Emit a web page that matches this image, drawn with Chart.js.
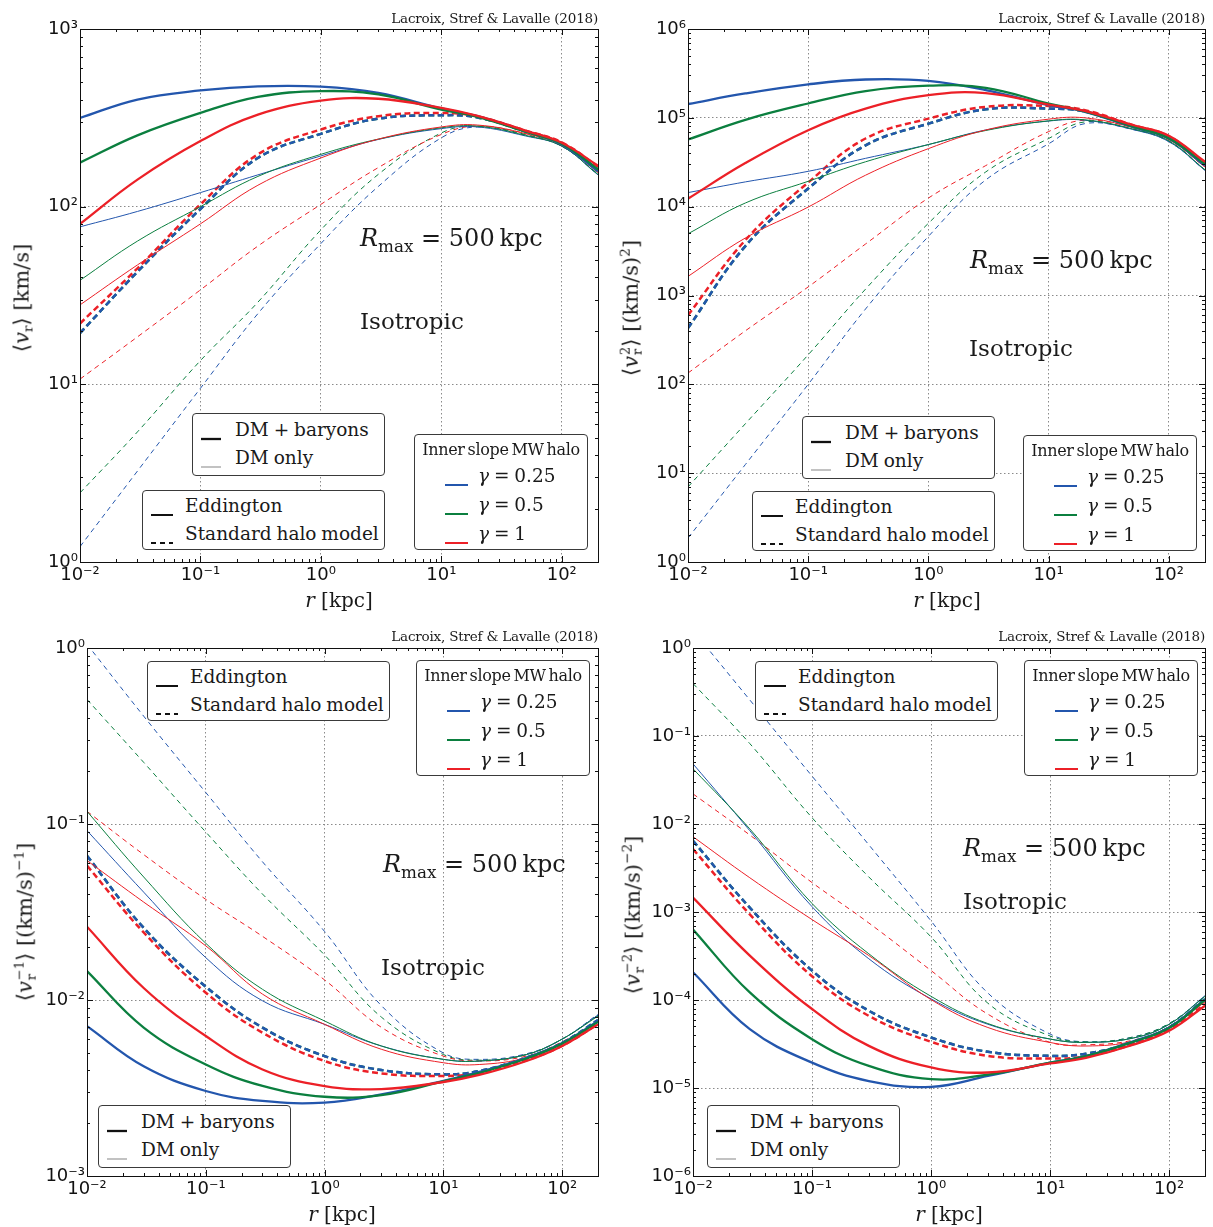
<!DOCTYPE html>
<html>
<head>
<meta charset="utf-8">
<script src="https://cdn.jsdelivr.net/npm/chart.js@4.4.0/dist/chart.umd.min.js"></script>
<style>
body{margin:0;background:#fff;width:1213px;height:1227px;position:relative;overflow:hidden;font-family:"DejaVu Serif",serif;color:#1a1a1a}
canvas{position:absolute}
.t{position:absolute;white-space:nowrap;line-height:1}
.box{position:absolute;border:1px solid #3a3a3a;border-radius:4px;background:#fff}
.row{position:absolute;white-space:nowrap;font-size:18.5px;line-height:1;transform:translateY(-50%);word-spacing:-1px}
.smp{position:absolute;transform:translateY(-50%)}
sub,sup{font-size:65%;line-height:0}
.st{display:inline-block;vertical-align:middle;font-size:62%;line-height:0.95;margin-left:1px}
.st span{display:block}
</style>
</head>
<body>
<canvas id="c1"></canvas>
<canvas id="c2"></canvas>
<canvas id="c3"></canvas>
<canvas id="c4"></canvas>
<script>
// radius grid (kpc) shared by every curve
const r = [0.01, 0.03, 0.1, 0.3, 1, 3, 10, 20, 50, 100, 200];

// <v_r>  [km/s]
const v1_eddBar_b = [316, 401, 451, 476, 474, 437, 357, 323, 266, 224, 158];
const v1_eddBar_g = [177, 252, 337, 415, 447, 428, 352, 320, 264, 226, 162];
const v1_eddBar_r = [80, 142, 234, 330, 395, 405, 360, 324, 268, 229, 170];
const v1_eddDm_b = [77, 94, 120, 151, 193, 239, 275, 281, 250, 219, 151];
const v1_eddDm_g = [38.5, 64, 100, 148, 197, 240, 278, 284, 252, 219, 152];
const v1_eddDm_r = [28, 47, 80, 132, 188, 240, 281, 288, 258, 222, 156];
const v1_shmBar_b = [19.4, 43, 97, 188, 257, 313, 327, 318, 265, 226, 162];
const v1_shmBar_g = [19.4, 43, 97, 188, 257, 313, 327, 318, 265, 226, 162];
const v1_shmBar_r = [22, 45, 103, 197, 272, 323, 337, 322, 268, 230, 168];
const v1_shmDm_b = [1.22, 3.25, 9.5, 25, 62, 130, 244, 281, 253, 219, 152];
const v1_shmDm_g = [2.45, 5.4, 13.6, 29, 74, 152, 260, 284, 255, 220, 153];
const v1_shmDm_r = [10.7, 18.5, 34, 60, 103, 166, 255, 284, 258, 222, 156];

// <v_r^2>  [(km/s)^2]
const v2_eddBar_b = [1.43e5, 1.88e5, 2.38e5, 2.7e5, 2.61e5, 2.05e5, 1.39e5, 1.17e5, 7.9e4, 5.85e4, 2.9e4];
const v2_eddBar_g = [5.7e4, 9.5e4, 1.45e5, 2.0e5, 2.3e5, 2.18e5, 1.45e5, 1.18e5, 8.0e4, 5.9e4, 3.0e4];
const v2_eddBar_r = [1.23e4, 3.1e4, 7.26e4, 1.27e5, 1.8e5, 1.9e5, 1.41e5, 1.2e5, 8.3e4, 6.3e4, 3.2e4];
const v2_eddDm_b = [1.44e4, 1.9e4, 2.5e4, 3.5e4, 5.0e4, 7.3e4, 9.2e4, 9.4e4, 7.4e4, 5.4e4, 2.57e4];
const v2_eddDm_g = [4950, 1.1e4, 1.93e4, 3.2e4, 5.0e4, 7.2e4, 9.25e4, 9.5e4, 7.5e4, 5.5e4, 2.6e4];
const v2_eddDm_r = [1640, 4440, 9900, 2.26e4, 4.5e4, 7.3e4, 9.66e4, 1.0e5, 7.8e4, 5.7e4, 2.8e4];
const v2_shmBar_b = [430, 3600, 1.6e4, 4.9e4, 8.6e4, 1.25e5, 1.27e5, 1.18e5, 8.0e4, 6.0e4, 2.9e4];
const v2_shmBar_g = [430, 3600, 1.6e4, 4.9e4, 8.6e4, 1.25e5, 1.27e5, 1.18e5, 8.0e4, 6.0e4, 2.9e4];
const v2_shmBar_r = [600, 4200, 1.87e4, 5.85e4, 9.8e4, 1.33e5, 1.36e5, 1.22e5, 8.3e4, 6.2e4, 3.1e4];
const v2_shmDm_b = [1.86, 12.5, 100, 705, 4630, 2.0e4, 5.1e4, 8.6e4, 7.4e4, 5.4e4, 2.57e4];
const v2_shmDm_g = [7.0, 36, 215, 1180, 6500, 2.46e4, 5.85e4, 9.0e4, 7.5e4, 5.5e4, 2.6e4];
const v2_shmDm_r = [134, 400, 1250, 3800, 1.25e4, 2.9e4, 7.0e4, 9.4e4, 7.8e4, 5.7e4, 2.8e4];

// <v_r^-1>  [(km/s)^-1]
const vm1_eddBar_b = [7.1e-3, 4.2e-3, 3.04e-3, 2.67e-3, 2.61e-3, 2.91e-3, 3.47e-3, 3.9e-3, 4.7e-3, 5.7e-3, 7.6e-3];
const vm1_eddBar_g = [1.46e-2, 6.97e-3, 4.3e-3, 3.25e-3, 2.82e-3, 2.88e-3, 3.45e-3, 3.85e-3, 4.65e-3, 5.65e-3, 7.5e-3];
const vm1_eddBar_r = [2.61e-2, 1.17e-2, 6.24e-3, 4.03e-3, 3.24e-3, 3.12e-3, 3.42e-3, 3.75e-3, 4.5e-3, 5.48e-3, 7.27e-3];
const vm1_eddDm_b = [9.17e-2, 4.1e-2, 1.74e-2, 9.9e-3, 7.27e-3, 5.48e-3, 4.6e-3, 4.5e-3, 4.9e-3, 6.0e-3, 8.2e-3];
const vm1_eddDm_g = [0.118, 5.0e-2, 2.1e-2, 1.15e-2, 7.6e-3, 5.48e-3, 4.6e-3, 4.5e-3, 4.9e-3, 6.0e-3, 8.1e-3];
const vm1_eddDm_r = [6.2e-2, 3.6e-2, 2.03e-2, 1.08e-2, 7.27e-3, 5.25e-3, 4.4e-3, 4.3e-3, 4.7e-3, 5.7e-3, 7.5e-3];
const vm1_shmBar_b = [6.6e-2, 2.57e-2, 1.19e-2, 6.97e-3, 4.8e-3, 4.0e-3, 3.78e-3, 3.95e-3, 4.7e-3, 5.7e-3, 7.7e-3];
const vm1_shmBar_g = [6.6e-2, 2.57e-2, 1.19e-2, 6.97e-3, 4.8e-3, 4.0e-3, 3.78e-3, 3.95e-3, 4.7e-3, 5.7e-3, 7.7e-3];
const vm1_shmBar_r = [5.8e-2, 2.42e-2, 1.1e-2, 6.52e-3, 4.5e-3, 3.83e-3, 3.7e-3, 3.85e-3, 4.55e-3, 5.5e-3, 7.3e-3];
const vm1_shmDm_b = [1.05, 0.41, 0.151, 0.061, 2.45e-2, 9.3e-3, 5.0e-3, 4.6e-3, 4.95e-3, 6.0e-3, 8.3e-3];
const vm1_shmDm_g = [0.51, 0.224, 0.09, 0.04, 1.8e-2, 8.0e-3, 4.9e-3, 4.55e-3, 4.9e-3, 6.0e-3, 8.2e-3];
const vm1_shmDm_r = [0.118, 6.7e-2, 3.73e-2, 2.3e-2, 1.3e-2, 7.0e-3, 4.8e-3, 4.5e-3, 4.8e-3, 5.8e-3, 7.6e-3];

// <v_r^-2>  [(km/s)^-2]
const vm2_eddBar_b = [2.07e-4, 4.67e-5, 1.94e-5, 1.2e-5, 1.03e-5, 1.37e-5, 1.94e-5, 2.3e-5, 3.4e-5, 4.87e-5, 1.02e-4];
const vm2_eddBar_g = [6.34e-4, 1.22e-4, 3.59e-5, 1.78e-5, 1.26e-5, 1.42e-5, 1.94e-5, 2.3e-5, 3.35e-5, 4.8e-5, 1.0e-4];
const vm2_eddBar_r = [1.46e-3, 3.2e-4, 7.9e-5, 3.01e-5, 1.71e-5, 1.5e-5, 1.9e-5, 2.2e-5, 3.1e-5, 4.47e-5, 8.6e-5];
const vm2_eddDm_b = [4.83e-2, 8.4e-3, 1.15e-3, 2.94e-4, 1.03e-4, 5.3e-5, 3.6e-5, 3.3e-5, 3.7e-5, 5.3e-5, 1.12e-4];
const vm2_eddDm_g = [4.24e-2, 8.8e-3, 1.25e-3, 3.35e-4, 1.1e-4, 5.4e-5, 3.6e-5, 3.3e-5, 3.7e-5, 5.3e-5, 1.1e-4];
const vm2_eddDm_r = [7.17e-3, 2.45e-3, 8.2e-4, 3.2e-4, 1.01e-4, 4.87e-5, 3.29e-5, 3.0e-5, 3.4e-5, 4.9e-5, 9.5e-5];
const vm2_shmBar_b = [6.45e-3, 1.12e-3, 2.16e-4, 7.55e-5, 3.75e-5, 2.58e-5, 2.32e-5, 2.45e-5, 3.3e-5, 4.9e-5, 1.02e-4];
const vm2_shmBar_g = [6.45e-3, 1.12e-3, 2.16e-4, 7.55e-5, 3.75e-5, 2.58e-5, 2.32e-5, 2.45e-5, 3.3e-5, 4.9e-5, 1.02e-4];
const vm2_shmBar_r = [5.19e-3, 9.4e-4, 1.86e-4, 6.6e-5, 3.35e-5, 2.32e-5, 2.16e-5, 2.3e-5, 3.15e-5, 4.6e-5, 9.0e-5];
const vm2_shmDm_b = [1.58, 0.257, 3.5e-2, 5.8e-3, 7.9e-4, 1.2e-4, 4.1e-5, 3.35e-5, 3.8e-5, 5.4e-5, 1.1e-4];
const vm2_shmDm_g = [0.395, 8.2e-2, 1.18e-2, 2.5e-3, 5.2e-4, 9.2e-5, 3.9e-5, 3.35e-5, 3.8e-5, 5.4e-5, 1.1e-4];
const vm2_shmDm_r = [2.2e-2, 7.5e-3, 2.16e-3, 7.5e-4, 2.16e-4, 6.9e-5, 3.3e-5, 3.1e-5, 3.5e-5, 5.0e-5, 9.7e-5];

const colors = ['#2356ad', '#0b7f3f', '#ec2027']; // gamma = 0.25, 0.5, 1
// line style per model, listed bottom -> top
const styles = {
  shmDm:  {w: 1.0, dash: [5, 4]},
  shmBar: {w: 2.5, dash: [6, 3.5]},
  eddDm:  {w: 1.0, dash: []},
  eddBar: {w: 2.3, dash: []}
};

const panels = [
  {id: 'c1', left: 0, top: 0, w: 606, h: 612, yw: 80, padT: 29, xh: 50, ymin: 1, ymax: 1e3,
   sets: {shmDm: [v1_shmDm_b, v1_shmDm_g, v1_shmDm_r], shmBar: [v1_shmBar_g, v1_shmBar_b, v1_shmBar_r],
          eddDm: [v1_eddDm_b, v1_eddDm_g, v1_eddDm_r], eddBar: [v1_eddBar_b, v1_eddBar_g, v1_eddBar_r]}},
  {id: 'c2', left: 606, top: 0, w: 607, h: 612, yw: 82, padT: 29, xh: 50, ymin: 1, ymax: 1e6,
   sets: {shmDm: [v2_shmDm_b, v2_shmDm_g, v2_shmDm_r], shmBar: [v2_shmBar_g, v2_shmBar_b, v2_shmBar_r],
          eddDm: [v2_eddDm_b, v2_eddDm_g, v2_eddDm_r], eddBar: [v2_eddBar_b, v2_eddBar_g, v2_eddBar_r]}},
  {id: 'c3', left: 0, top: 612, w: 606, h: 615, yw: 87, padT: 36, xh: 51, ymin: 1e-3, ymax: 1,
   sets: {shmDm: [vm1_shmDm_b, vm1_shmDm_g, vm1_shmDm_r], shmBar: [vm1_shmBar_g, vm1_shmBar_b, vm1_shmBar_r],
          eddDm: [vm1_eddDm_b, vm1_eddDm_g, vm1_eddDm_r], eddBar: [vm1_eddBar_b, vm1_eddBar_g, vm1_eddBar_r]}},
  {id: 'c4', left: 606, top: 612, w: 607, h: 615, yw: 87, padT: 36, xh: 51, ymin: 1e-6, ymax: 1,
   sets: {shmDm: [vm2_shmDm_b, vm2_shmDm_g, vm2_shmDm_r], shmBar: [vm2_shmBar_g, vm2_shmBar_b, vm2_shmBar_r],
          eddDm: [vm2_eddDm_b, vm2_eddDm_g, vm2_eddDm_r], eddBar: [vm2_eddBar_b, vm2_eddBar_g, vm2_eddBar_r]}}
];

const SUP = {'-': '\u207B', '0': '\u2070', '1': '\u00B9', '2': '\u00B2', '3': '\u00B3', '4': '\u2074', '5': '\u2075', '6': '\u2076'};
function isDecade(v) {
  const l = Math.log10(v);
  return Math.abs(l - Math.round(l)) < 1e-6;
}
function decadeLabel(v) {
  if (!isDecade(v)) return '';
  const e = Math.round(Math.log10(v));
  return '10' + String(e).split('').map(c => SUP[c]).join('');
}

// closed frame + inward major/minor ticks on all four sides (matplotlib look)
const framePlugin = {
  id: 'frame',
  afterDatasetsDraw(chart) {
    const {ctx, chartArea: a, scales: {x, y}} = chart;
    ctx.save();
    ctx.strokeStyle = '#111';
    ctx.lineWidth = 1;
    ctx.beginPath();
    for (let e = -2; e <= 2; e++) {
      for (let k = 1; k < 10; k++) {
        const v = k * Math.pow(10, e);
        if (v < x.min * 0.999 || v > x.max * 1.001) continue;
        const px = Math.round(x.getPixelForValue(v)) + 0.5;
        const L = k === 1 ? 6 : 3;
        ctx.moveTo(px, a.bottom); ctx.lineTo(px, a.bottom - L);
        ctx.moveTo(px, a.top); ctx.lineTo(px, a.top + L);
      }
    }
    const e0 = Math.round(Math.log10(y.min)), e1 = Math.round(Math.log10(y.max));
    for (let e = e0; e <= e1; e++) {
      for (let k = 1; k < 10; k++) {
        const v = k * Math.pow(10, e);
        if (v > y.max * 1.001) continue;
        const py = Math.round(y.getPixelForValue(v)) + 0.5;
        const L = k === 1 ? 6 : 3;
        ctx.moveTo(a.left, py); ctx.lineTo(a.left + L, py);
        ctx.moveTo(a.right, py); ctx.lineTo(a.right - L, py);
      }
    }
    ctx.stroke();
    ctx.strokeRect(Math.round(a.left) + 0.5, Math.round(a.top) + 0.5,
                   Math.round(a.right - a.left), Math.round(a.bottom - a.top));
    ctx.restore();
  }
};

function axis(extra) {
  return Object.assign({
    type: 'logarithmic',
    border: {display: false, dash: [1.5, 2.5]},
    grid: {drawTicks: false, lineWidth: 1,
           color: c => (c.tick && isDecade(c.tick.value)) ? '#8a8a8a' : 'rgba(0,0,0,0)'}
  }, extra);
}
const tickFont = {family: 'DejaVu Sans', size: 18};

panels.forEach(P => {
  const cv = document.getElementById(P.id);
  cv.width = P.w; cv.height = P.h;
  cv.style.left = P.left + 'px'; cv.style.top = P.top + 'px';
  cv.style.width = P.w + 'px'; cv.style.height = P.h + 'px';

  const ds = [];
  Object.keys(styles).forEach(key => {
    const st = styles[key];
    const order = key === 'shmBar' ? [1, 0, 2] : [0, 1, 2];
    P.sets[key].forEach((arr, i) => {
      ds.push({
        data: r.map((rv, j) => ({x: rv, y: arr[j]})),
        borderColor: colors[order[i]],
        borderWidth: st.w,
        borderDash: st.dash,
        pointRadius: 0,
        fill: false,
        tension: 0.4
      });
    });
  });
  ds.reverse(); // first dataset is painted last (on top)

  new Chart(cv, {
    type: 'line',
    data: {datasets: ds},
    options: {
      responsive: false, animation: false, events: [],
      layout: {padding: {top: P.padT, right: 8, left: 0, bottom: 0}},
      plugins: {legend: {display: false}, tooltip: {enabled: false}},
      scales: {
        x: axis({min: 0.01, max: 200, afterFit: s => { s.height = P.xh; },
                 ticks: {autoSkip: false, maxRotation: 0, padding: 3, color: '#111',
                         font: tickFont, callback: v => decadeLabel(v)}}),
        y: axis({min: P.ymin, max: P.ymax, afterFit: s => { s.width = P.yw; },
                 ticks: {autoSkip: false, padding: 2, color: '#111',
                         font: tickFont, callback: v => decadeLabel(v)}})
      }
    },
    plugins: [framePlugin]
  });
});

// ---- text and legend boxes (HTML overlay) ----
function addText(html, css) {
  const d = document.createElement('div');
  d.className = 't';
  d.innerHTML = html;
  Object.assign(d.style, css);
  document.body.appendChild(d);
  return d;
}
function sample(color, width, dash, len) {
  return '<svg width="' + len + '" height="6"><line x1="0" y1="3" x2="' + len + '" y2="3" stroke="' + color +
    '" stroke-width="' + width + '"' + (dash ? ' stroke-dasharray="' + dash + '"' : '') + '/></svg>';
}
function box(left, top, w, h, rows, title) {
  const b = document.createElement('div');
  b.className = 'box';
  Object.assign(b.style, {left: left + 'px', top: top + 'px', width: w + 'px', height: h + 'px'});
  if (title) {
    const t = document.createElement('div');
    t.className = 'row';
    t.style.cssText = 'left:0;width:100%;text-align:center;top:15px;font-size:16px;letter-spacing:-0.3px;word-spacing:-2px';
    t.textContent = title;
    b.appendChild(t);
  }
  rows.forEach(rw => {
    const s = document.createElement('div');
    s.className = 'smp';
    s.style.left = rw.sx + 'px'; s.style.top = rw.y + 'px'; s.style.height = '6px';
    s.innerHTML = rw.s;
    b.appendChild(s);
    const t = document.createElement('div');
    t.className = 'row';
    t.style.left = rw.tx + 'px'; t.style.top = rw.y + 'px';
    t.innerHTML = rw.text;
    b.appendChild(t);
  });
  document.body.appendChild(b);
}

const gam = ['<i>\u03B3</i> = 0.25', '<i>\u03B3</i> = 0.5', '<i>\u03B3</i> = 1'];
function gammaBox(left, top) {
  box(left, top, 172, 114, [0, 1, 2].map(i => ({sx: 30, tx: 63, y: 41 + 29 * i, s: sample(colors[i], 2, null, 23), text: gam[i]})),
      'Inner slope MW halo');
}
function modelBox(left, top) {
  box(left, top, 241, 58, [
    {sx: 8, tx: 42, y: 15, s: sample('#111', 2, null, 22), text: 'Eddington'},
    {sx: 8, tx: 42, y: 43, s: sample('#111', 2, '5,4', 22), text: 'Standard halo model'}
  ]);
}
function baryonBox(left, top) {
  box(left, top, 191, 61, [
    {sx: 8, tx: 42, y: 16, s: sample('#111', 2.3, null, 20), text: 'DM + baryons'},
    {sx: 8, tx: 42, y: 44, s: sample('#999', 1.2, null, 20), text: 'DM only'}
  ]);
}

// panel 1
baryonBox(192, 413); modelBox(142, 490); gammaBox(414, 434);
// panel 2
baryonBox(802, 416); modelBox(752, 491); gammaBox(1023, 435);
// panel 3
modelBox(147, 661); gammaBox(416, 660); baryonBox(98, 1105);
// panel 4
modelBox(755, 661); gammaBox(1024, 660); baryonBox(707, 1105);

const rmax = '<i>R</i><sub style="font-size:70%;vertical-align:-0.35em">max</sub> = 500&#8201;kpc';
[[360, 238], [970, 260], [383, 864], [963, 848]].forEach(p =>
  addText(rmax, {left: p[0] + 'px', top: p[1] + 'px', fontSize: '24px', transform: 'translateY(-50%)'}));
[[360, 321], [969, 348], [381, 967], [963, 901]].forEach(p =>
  addText('Isotropic', {left: p[0] + 'px', top: p[1] + 'px', fontSize: '23px', transform: 'translateY(-50%)'}));
[[598, 19], [1205, 19], [598, 637], [1205, 637]].forEach(p =>
  addText('Lacroix, Stref &amp; Lavalle (2018)', {left: p[0] + 'px', top: p[1] + 'px', fontSize: '13.5px',
    transform: 'translate(-100%,-50%)', letterSpacing: '-0.2px'}));
[[339, 600], [947, 600], [342, 1214], [949, 1214]].forEach(p =>
  addText('<i>r</i> [kpc]', {left: p[0] + 'px', top: p[1] + 'px', fontSize: '20px', transform: 'translate(-50%,-50%)'}));

const ylabels = [
  {x: 22, y: 298, html: '\u27E8<i>v</i><sub style="vertical-align:-0.3em">r</sub>\u27E9 [km/s]'},
  {x: 632, y: 308, html: '\u27E8<i>v</i><span class="st"><span>2</span><span>r</span></span>\u27E9 [(km/s)<sup style="vertical-align:0.6em">2</sup>]'},
  {x: 26, y: 922, html: '\u27E8<i>v</i><span class="st"><span>\u22121</span><span>r</span></span>\u27E9 [(km/s)<sup style="vertical-align:0.6em">\u22121</sup>]'},
  {x: 634, y: 915, html: '\u27E8<i>v</i><span class="st"><span>\u22122</span><span>r</span></span>\u27E9 [(km/s)<sup style="vertical-align:0.6em">\u22122</sup>]'}
];
ylabels.forEach(l => addText(l.html, {left: l.x + 'px', top: l.y + 'px', fontSize: '21px',
  transform: 'translate(-50%,-50%) rotate(-90deg)'}));
</script>
</body>
</html>
